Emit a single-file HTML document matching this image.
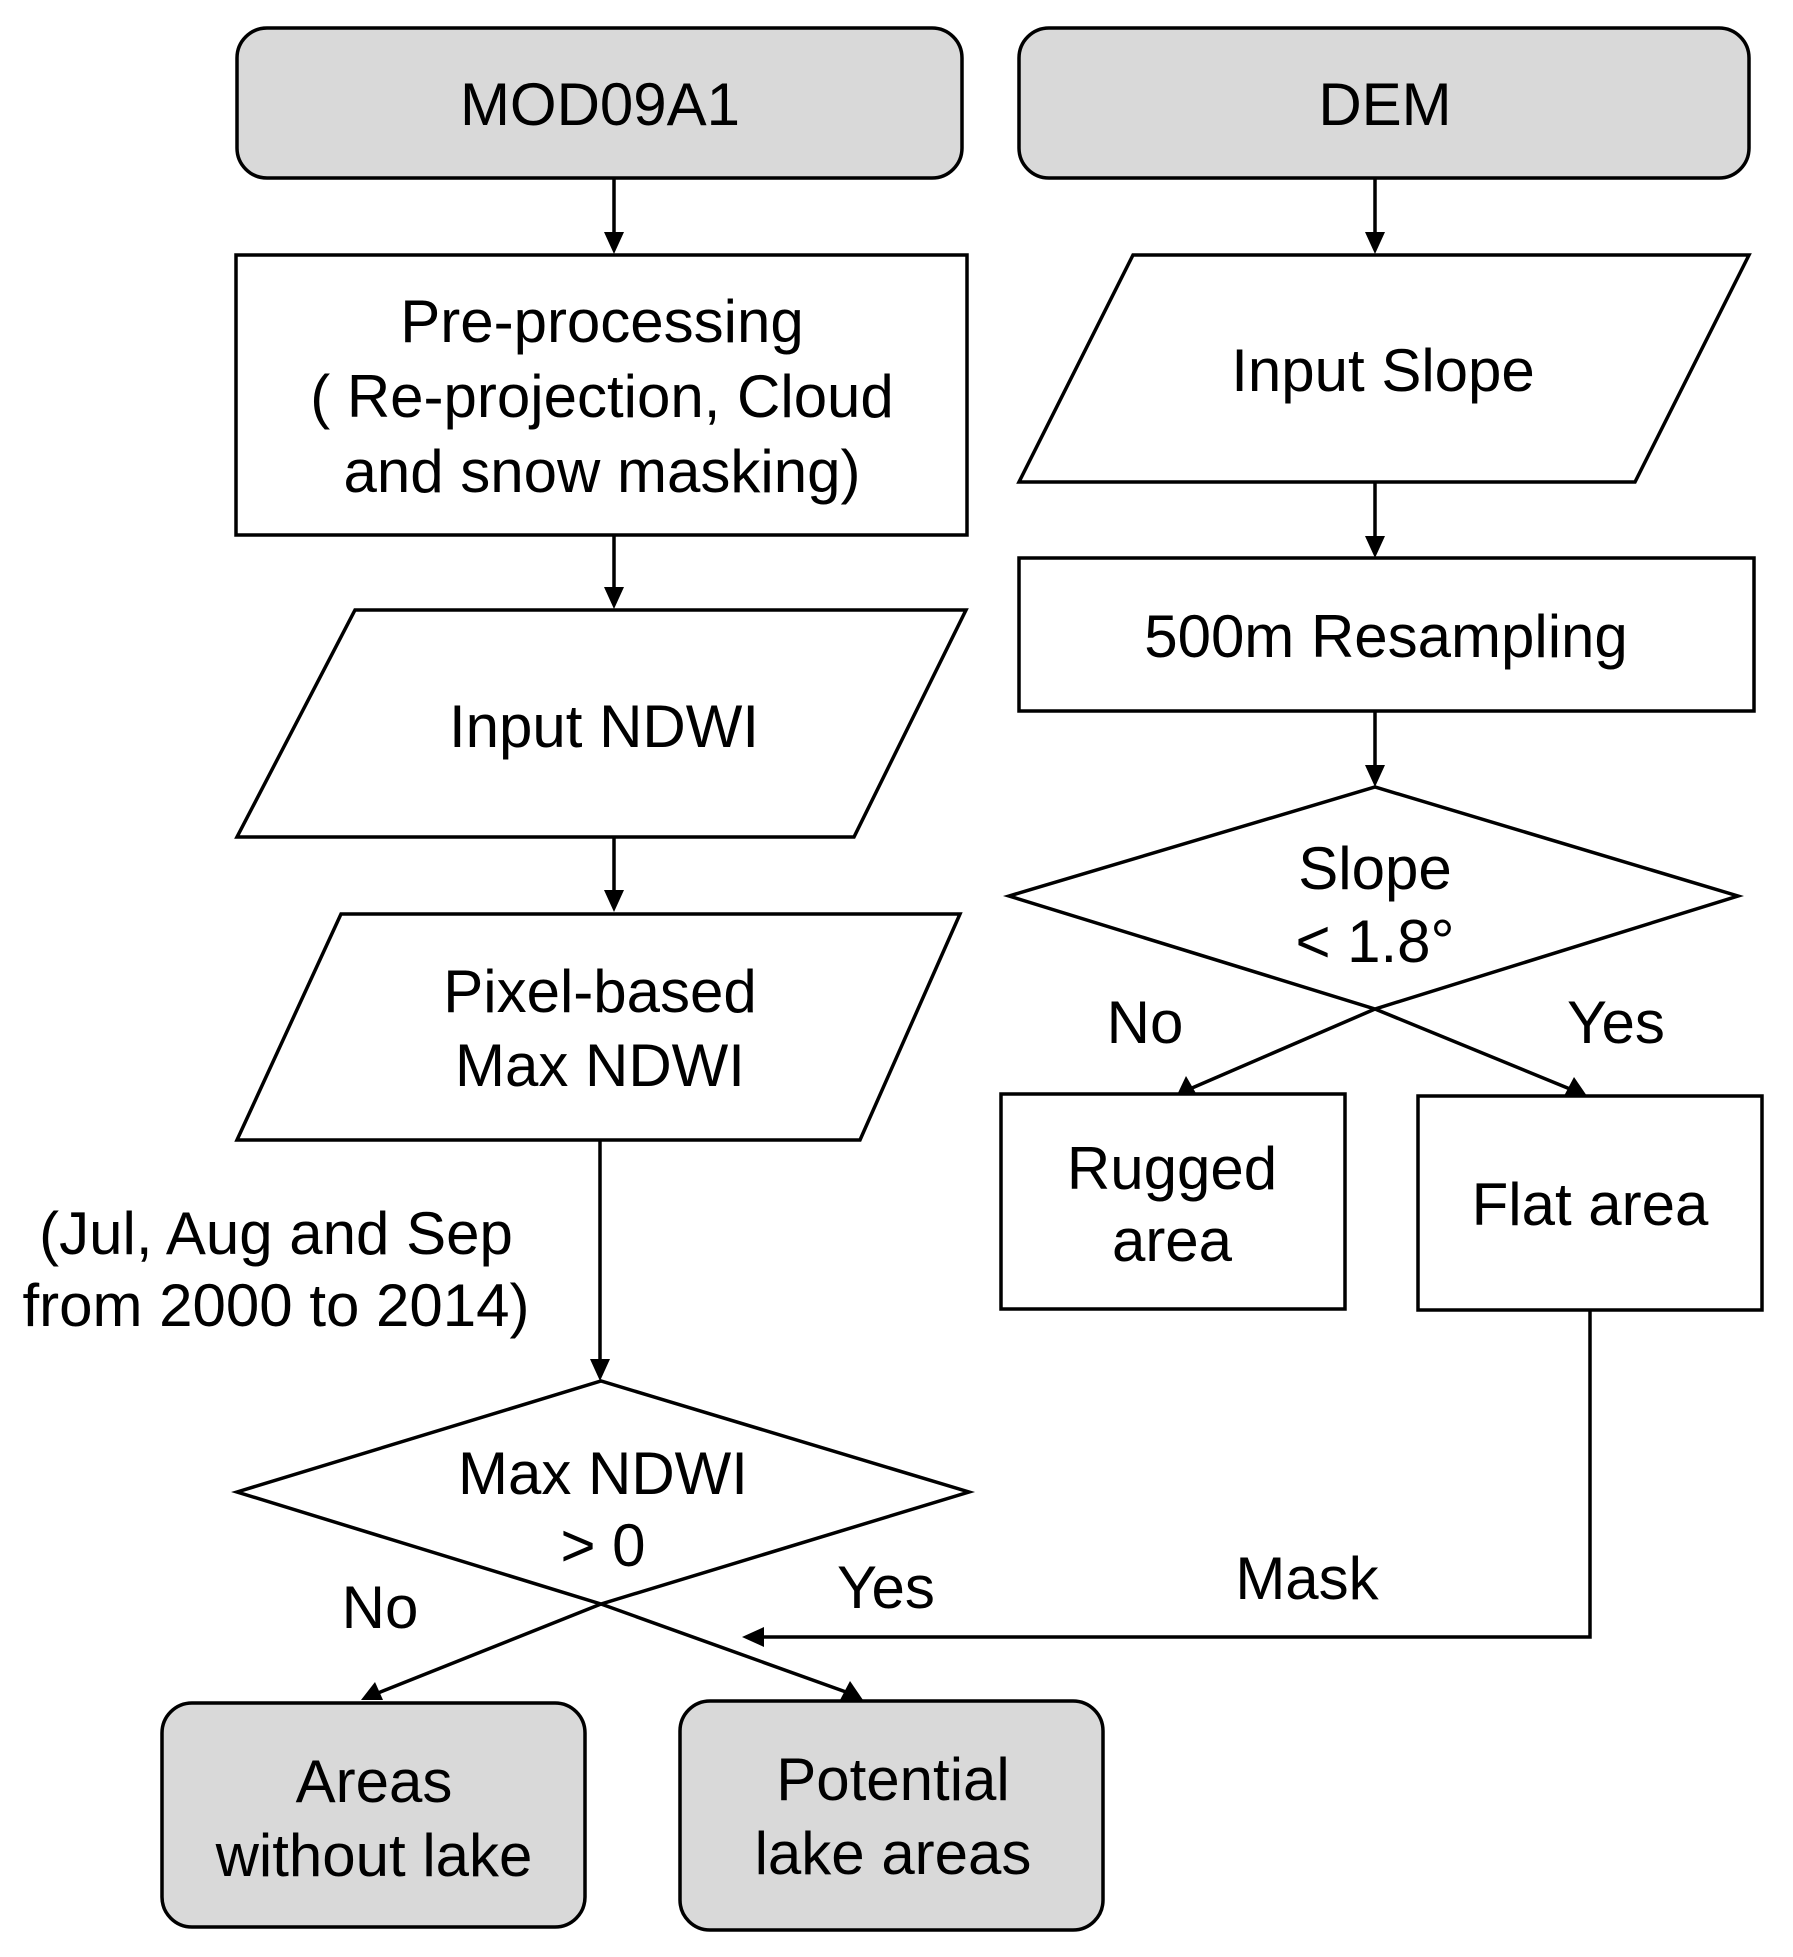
<!DOCTYPE html>
<html><head><meta charset="utf-8"><style>
html,body{margin:0;padding:0;background:#fff;}
svg{display:block;}
text{font-family:"Liberation Sans",Arial,sans-serif;font-size:60px;fill:#000;text-anchor:middle;}
</style></head><body>
<svg width="1793" height="1957" viewBox="0 0 1793 1957" xmlns="http://www.w3.org/2000/svg">
<g stroke="#000" stroke-width="3.5" fill="none">
<rect x="237" y="28" width="725" height="150" rx="30" fill="#d9d9d9"/>
<rect x="1019" y="28" width="730" height="150" rx="30" fill="#d9d9d9"/>
<rect x="236" y="255" width="731" height="280" fill="#fff"/>
<polygon points="355,610 966,610 854,837 237,837" fill="#fff"/>
<polygon points="341,914 960,914 860,1140 237,1140" fill="#fff"/>
<polygon points="237,1492 601,1381 969,1492 601,1604" fill="#fff"/>
<rect x="162" y="1703" width="423" height="224" rx="30" fill="#d9d9d9"/>
<rect x="680" y="1701" width="423" height="229" rx="30" fill="#d9d9d9"/>
<polygon points="1133,255 1749,255 1635,482 1019,482" fill="#fff"/>
<rect x="1019" y="558" width="735" height="153" fill="#fff"/>
<polygon points="1009,896 1375,787 1738,896 1375,1009" fill="#fff"/>
<rect x="1001" y="1094" width="344" height="215" fill="#fff"/>
<rect x="1418" y="1096" width="344" height="214" fill="#fff"/>
<line x1="614" y1="178" x2="614" y2="235"/>
<line x1="614" y1="535" x2="614" y2="590"/>
<line x1="614" y1="837" x2="614" y2="893"/>
<line x1="600" y1="1140" x2="600" y2="1362"/>
<line x1="1375" y1="178" x2="1375" y2="235"/>
<line x1="1375" y1="482" x2="1375" y2="539"/>
<line x1="1375" y1="711" x2="1375" y2="768"/>
<line x1="601" y1="1604" x2="378" y2="1693"/>
<line x1="601" y1="1604" x2="846" y2="1692"/>
<line x1="1375" y1="1009" x2="1192" y2="1088"/>
<line x1="1375" y1="1009" x2="1570" y2="1089"/>
<polyline points="1590,1310 1590,1637 762,1637"/>
</g>
<g fill="#000">
<polygon points="614,254 604,232 624,232"/>
<polygon points="614,609 604,587 624,587"/>
<polygon points="614,912 604,890 624,890"/>
<polygon points="600,1381 590,1359 610,1359"/>
<polygon points="1375,254 1365,232 1385,232"/>
<polygon points="1375,558 1365,536 1385,536"/>
<polygon points="1375,787 1365,765 1385,765"/>
<polygon points="361,1700 375,1682 383,1700"/>
<polygon points="863,1700 840,1700 850,1681"/>
<polygon points="1177,1095 1186,1076 1197,1095"/>
<polygon points="1587,1096 1564,1096 1574,1077"/>
<polygon points="742,1637 764,1627 764,1647"/>
</g>
<text x="600" y="125">MOD09A1</text>
<text x="1385" y="125">DEM</text>
<text x="602" y="342">Pre-processing</text>
<text x="602" y="417">( Re-projection, Cloud</text>
<text x="602" y="492">and snow masking)</text>
<text x="604" y="747">Input NDWI</text>
<text x="600" y="1012">Pixel-based</text>
<text x="600" y="1086">Max NDWI</text>
<text x="276" y="1254">(Jul, Aug and Sep</text>
<text x="276" y="1326">from 2000 to 2014)</text>
<text x="603" y="1494">Max NDWI</text>
<text x="603" y="1566">&gt; 0</text>
<text x="380" y="1628">No</text>
<text x="886" y="1608">Yes</text>
<text x="1307" y="1599">Mask</text>
<text x="374" y="1802">Areas</text>
<text x="374" y="1876">without lake</text>
<text x="893" y="1800">Potential</text>
<text x="893" y="1874">lake areas</text>
<text x="1383" y="391">Input Slope</text>
<text x="1386" y="657">500m Resampling</text>
<text x="1375" y="889">Slope</text>
<text x="1375" y="962">&lt;  1.8°</text>
<text x="1145" y="1043">No</text>
<text x="1616" y="1043">Yes</text>
<text x="1172" y="1189">Rugged</text>
<text x="1172" y="1261">area</text>
<text x="1590" y="1225">Flat area</text>
</svg>
</body></html>
